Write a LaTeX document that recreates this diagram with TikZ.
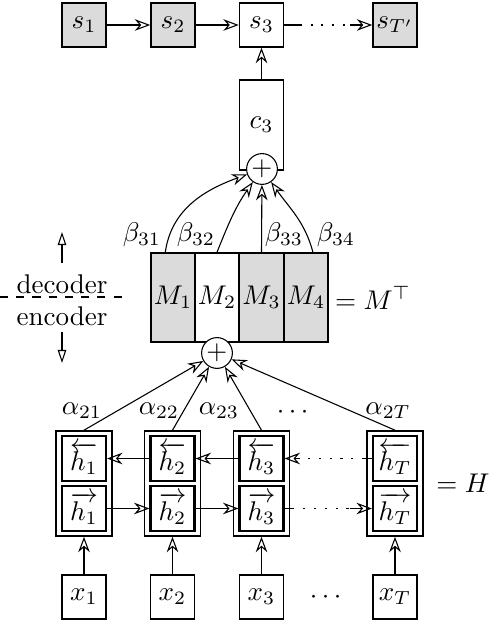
\documentclass[tikz,border=0pt]{standalone}
\usepackage{amsmath}
\usetikzlibrary{arrows.meta}

\tikzset{
  box/.style={draw, semithick, minimum width=5.72mm, minimum height=5.72mm, inner sep=0pt},
  graybox/.style={box, fill=gray!28},
  hbox/.style={box, thick, minimum height=5.85mm},
  outerbox/.style={draw, semithick, minimum width=7.28mm, minimum height=13.65mm},
  plusnode/.style={draw, circle, fill=white, minimum size=4mm, inner sep=0pt},
  arr/.style={-{Stealth[open, length=2mm, width=1.5mm]}},
  tri/.style={-{Triangle[open, length=1.7mm, width=1.1mm]}},
  dots/.style={dash pattern=on 0.8pt off 3.2pt}
}

\begin{document}
\begin{tikzpicture}[x=1.3mm, y=-1.3mm]
\useasboundingbox (0,0) rectangle (49.4,62);

% decoder states
\node[graybox] (s1) at (8.4,2.5) {$s_1$};
\node[graybox] (s2) at (17.3,2.5) {$s_2$};
\node[box] (s3) at (26.15,2.5) {$s_3$};
\node[graybox] (sT) at (39.5,2.5) {$s_{T'}$};
\draw[arr] (s1) -- (s2);
\draw[arr] (s2) -- (s3);
\coordinate (sa) at ([xshift=2mm]s3.east);
\coordinate (sb) at ([xshift=-2.9mm]sT.west);
\draw (s3.east) -- (sa);
\draw[dots] (sa) -- (sb);
\draw[arr] (sb) -- (sT.west);

% context vector
\node[box, minimum height=11.7mm] (c3) at (26.15,12.5) {$c_3$};
\draw[arr] (c3) -- (s3);

% memory
\node[graybox, minimum height=11.57mm] (m1) at (17.3,29.75) {$M_1$};
\node[box, minimum height=11.57mm] (m2) at (21.7,29.75) {$M_2$};
\node[graybox, minimum height=11.57mm] (m3) at (26.15,29.75) {$M_3$};
\node[graybox, minimum height=11.57mm] (m4) at (30.6,29.75) {$M_4$};
\node (mt) at (37.3,29.8) {$= M^\top$};

\node[plusnode] (p1) at (26.2,16.9) {$+$};
\draw[arr] ([xshift=-1mm]m1.north) to[out=82, in=200] (p1);
\draw[arr] (m2.north) to[out=68, in=235] (p1);
\draw[arr] (m3.north) -- (p1);
\draw[arr] ([xshift=0.9mm]m4.north) to[out=105, in=-55] (p1);
\node (b31) at (14.2,23.5) {$\beta_{31}$};
\node (b32) at (19.6,23.5) {$\beta_{32}$};
\node (b33) at (28.4,23.5) {$\beta_{33}$};
\node (b34) at (33.6,23.5) {$\beta_{34}$};

% decoder / encoder split
\draw[dashed] (0,29.7) -- (12.3,29.7);
\node (dec) at (6.2,28.4) {decoder};
\node (enc) at (6.2,31.6) {encoder};
\coordinate (upfoot) at (6.2,26.3);
\coordinate (uptip) at (6.2,23.2);
\coordinate (downfoot) at (6.2,33.2);
\coordinate (downtip) at (6.2,36.3);
\draw[tri] (upfoot) -- (uptip);
\draw[tri] (downfoot) -- (downtip);

% encoder states
\node[outerbox] (o1) at (8.4,48.35) {};
\node[hbox] (hb1) at (8.4,45.85) {$\overleftarrow{h_1}$};
\node[hbox] (hf1) at (8.4,50.85) {$\overrightarrow{h_1}$};
\node[outerbox] (o2) at (17.25,48.35) {};
\node[hbox] (hb2) at (17.25,45.85) {$\overleftarrow{h_2}$};
\node[hbox] (hf2) at (17.25,50.85) {$\overrightarrow{h_2}$};
\node[outerbox] (o3) at (26.15,48.35) {};
\node[hbox] (hb3) at (26.15,45.85) {$\overleftarrow{h_3}$};
\node[hbox] (hf3) at (26.15,50.85) {$\overrightarrow{h_3}$};
\node[outerbox] (oT) at (39.5,48.35) {};
\node[hbox] (hbT) at (39.5,45.85) {$\overleftarrow{h_T}$};
\node[hbox] (hfT) at (39.5,50.85) {$\overrightarrow{h_T}$};
\node (H) at (46.3,48.3) {$= H$};

\draw[arr] (hb2) -- (hb1);
\draw[arr] (hb3) -- (hb2);
\coordinate (ba) at ([xshift=-1mm]hbT.west);
\coordinate (bb) at ([xshift=2mm]hb3.east);
\draw (hbT.west) -- (ba);
\draw[dots] (ba) -- (bb);
\draw[arr] (bb) -- (hb3.east);

\draw[arr] (hf1) -- (hf2);
\draw[arr] (hf2) -- (hf3);
\coordinate (fa) at ([xshift=1mm]hf3.east);
\coordinate (fb) at ([xshift=-2.9mm]hfT.west);
\draw (hf3.east) -- (fa);
\draw[dots] (fa) -- (fb);
\draw[arr] (fb) -- (hfT.west);

% attention over encoder
\node[plusnode] (p2) at (21.7,35.3) {$+$};
\draw[arr] (o1.north) -- (p2);
\draw[arr] (o2.north) -- (p2);
\draw[arr] (o3.north) -- (p2);
\draw[arr] (oT.north) -- (p2);
\node (a21) at (8.2,41.1) {$\alpha_{21}$};
\node (a22) at (15.9,41.1) {$\alpha_{22}$};
\node (a23) at (21.9,41.1) {$\alpha_{23}$};
\node (adots) at (29.5,41.2) {$\cdots$};
\node (a2T) at (38.8,41.1) {$\alpha_{2T}$};

% inputs
\node[box] (x1) at (8.4,59.7) {$x_1$};
\node[box] (x2) at (17.25,59.7) {$x_2$};
\node[box] (x3) at (26.15,59.7) {$x_3$};
\node (xdots) at (32.8,59.7) {$\cdots$};
\node[box] (xT) at (39.5,59.7) {$x_T$};
\draw[arr] (x1) -- (o1);
\draw[arr] (x2) -- (o2);
\draw[arr] (x3) -- (o3);
\draw[arr] (xT) -- (oT);
\end{tikzpicture}
\end{document}
